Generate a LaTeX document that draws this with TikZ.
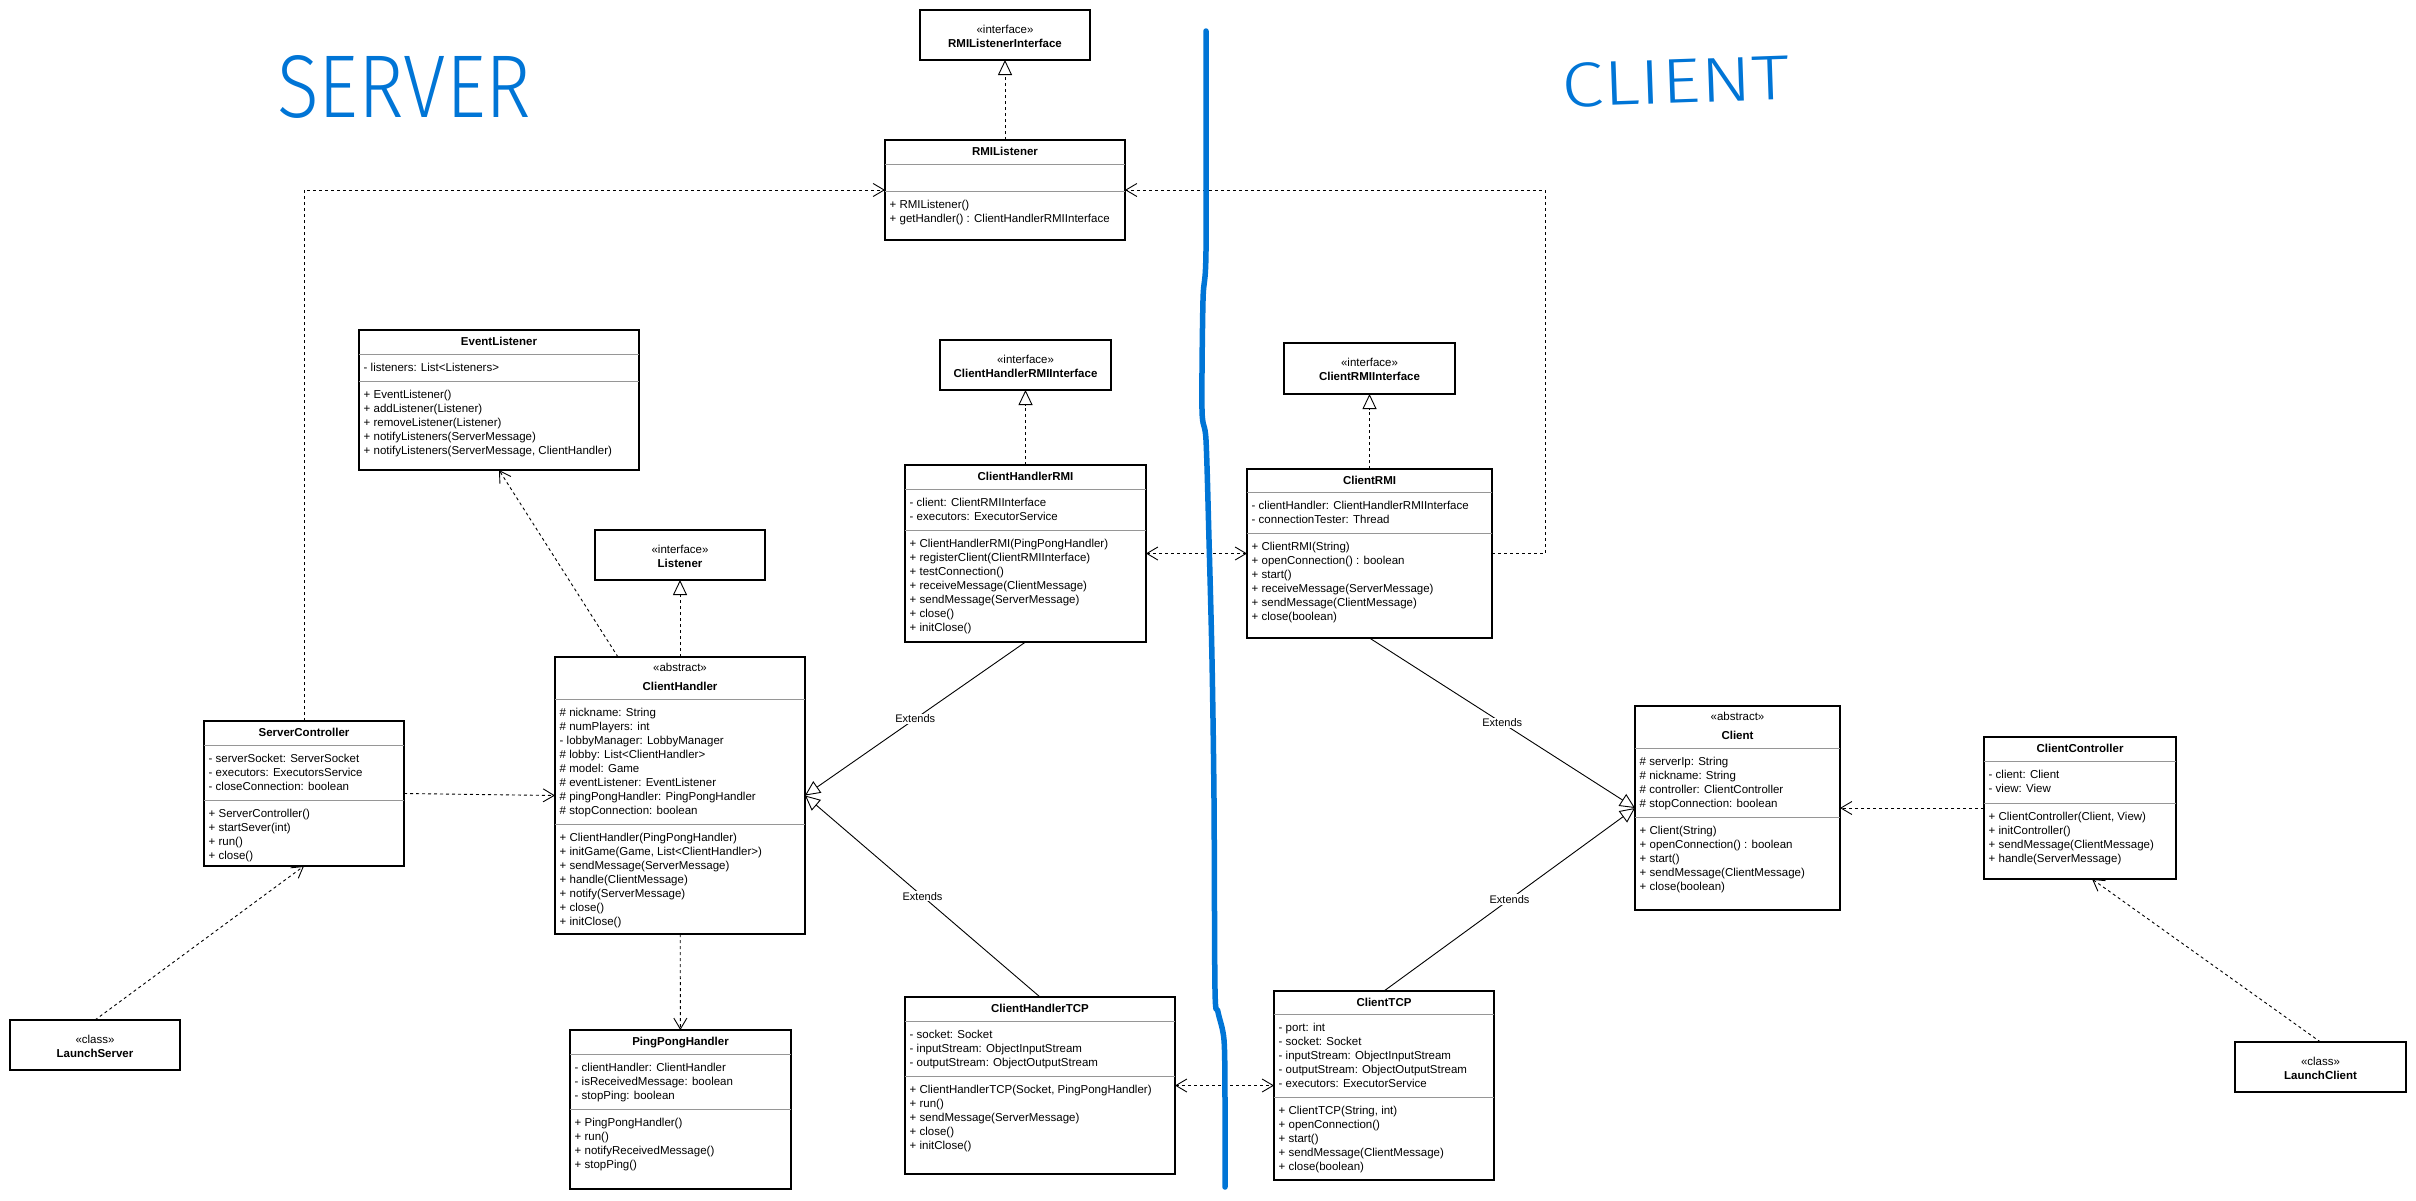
\documentclass[tikz,border=0pt]{standalone}
\usepackage{fontspec}
\setmainfont{Liberation Sans}
\IfFontExistsTF{Fira Sans Light}{\newfontfamily\handfont{Fira Sans Light}}{\newfontfamily\handfont{Fira Sans}}
\usepackage{graphicx}
\usetikzlibrary{arrows.meta}

\definecolor{pen}{RGB}{0,117,214}
\definecolor{sepgray}{RGB}{150,150,150}

\tikzset{
  umlbox/.style={draw=black, line width=1.2pt, fill=white, anchor=north west, inner sep=0pt, outer sep=0pt},
  sepline/.style={draw=sepgray, line width=1pt},
  member/.style={anchor=base west, inner sep=0pt, font=\fontsize{11.5}{14}\selectfont},
  ctitle/.style={inner sep=0pt, font=\fontsize{11.5}{14}\selectfont\bfseries},
  stereo/.style={inner sep=0pt, font=\fontsize{11.5}{14}\selectfont},
  dep/.style={line width=0.9pt, dash pattern=on 3pt off 3pt, -{Straight Barb[length=11pt,width=13pt]}},
  bidep/.style={line width=0.9pt, dash pattern=on 3pt off 3pt, {Straight Barb[length=11pt,width=13pt]}-{Straight Barb[length=11pt,width=13pt]}},
  realize/.style={line width=0.9pt, dash pattern=on 3pt off 3pt, -{Triangle[open,length=15pt,width=14pt]}},
  extends/.style={line width=0.9pt, -{Triangle[open,length=15pt,width=14pt]}},
  elabel/.style={fill=white, inner sep=1pt, font=\fontsize{11}{13}\selectfont},
  penline/.style={draw=pen, line width=5.5pt, line cap=round, line join=round},
}

% a class box: name, left, top, right, bottom
\newcommand\umlclass[5]{%
  \node[umlbox, minimum width={(#4)-(#2)}, minimum height={(#5)-(#3)}] (#1) at (#2,#3) {};}
% bold class name in the top compartment
\newcommand\umltitle[2]{%
  \node[ctitle, anchor=base] (#1-n) at ([yshift=-15pt]#1.north) {#2};}
% abstract class heading
\newcommand\umlabstract[2]{%
  \node[stereo, anchor=base] (#1-s) at ([yshift=-14.5pt]#1.north) {«abstract»};
  \node[ctitle, anchor=base] (#1-n) at ([yshift=-33.5pt]#1.north) {#2};}
% compartment separator at height y
\newcommand\umlsep[2]{%
  \draw[sepline] (#1.west |- 0,#2) -- (#1.east |- 0,#2);}
% list of members below a separator: prefix, left, separator y, items
\newcommand\umlmembers[4]{%
  \foreach \m [count=\k from 0] in {#4}{%
    \node[member, name=#1\k] at (#2+4.5,#3+17.8+14*\k) {\m};}}
% stereotyped box with two centred lines
\newcommand\umliface[7]{%
  \umlclass{#1}{#2}{#3}{#4}{#5}
  \node[stereo, anchor=base] (#1-s) at ([yshift=2pt]#1.center) {#6};
  \node[ctitle, anchor=base] (#1-n) at ([yshift=-12pt]#1.center) {#7};}

\begin{document}
\begin{tikzpicture}[x=1pt, y=-1pt]
\fill[white] (0,0) rectangle (2416,1200);
\useasboundingbox (0,0) rectangle (2416,1200);

% hand-written side captions
\node[text=pen, inner sep=0pt, anchor=south west] (serverlabel) at (277,119)
  {\resizebox{254pt}{62pt}{\handfont SERVER}};
\node[text=pen, inner sep=0pt, anchor=south west, rotate=2] (clientlabel) at (1562,108)
  {\resizebox{228pt}{44pt}{\handfont CLIENT}};

% ---------- server side ----------
\umliface{rli}{920}{10}{1090}{60}{«interface»}{RMIListenerInterface}

\umlclass{rl}{885}{140}{1125}{240}
\umltitle{rl}{RMIListener}
\umlsep{rl}{164}\umlsep{rl}{191}
\umlmembers{rl-o}{885}{191}{{+ RMIListener()},{+ getHandler() : ClientHandlerRMIInterface}}

\umlclass{el}{359}{330}{639}{470}
\umltitle{el}{EventListener}
\umlsep{el}{354}\umlsep{el}{381}
\umlmembers{el-a}{359}{354}{{- listeners: List<Listeners>}}
\umlmembers{el-o}{359}{381}{{+ EventListener()},{+ addListener(Listener)},{+ removeListener(Listener)},{+ notifyListeners(ServerMessage)},{+ notifyListeners(ServerMessage, ClientHandler)}}

\umliface{lis}{595}{530}{765}{580}{«interface»}{Listener}

\umlclass{ch}{555}{657}{805}{934}
\umlabstract{ch}{ClientHandler}
\umlsep{ch}{699}\umlsep{ch}{824}
\umlmembers{ch-a}{555}{699}{{\# nickname: String},{\# numPlayers: int},{- lobbyManager: LobbyManager},{\# lobby: List<ClientHandler>},{\# model: Game},{\# eventListener: EventListener},{\# pingPongHandler: PingPongHandler},{\# stopConnection: boolean}}
\umlmembers{ch-o}{555}{824}{{+ ClientHandler(PingPongHandler)},{+ initGame(Game, List<ClientHandler>)},{+ sendMessage(ServerMessage)},{+ handle(ClientMessage)},{+ notify(ServerMessage)},{+ close()},{+ initClose()}}

\umlclass{sc}{204}{721}{404}{866}
\umltitle{sc}{ServerController}
\umlsep{sc}{745}\umlsep{sc}{800}
\umlmembers{sc-a}{204}{745}{{- serverSocket: ServerSocket},{- executors: ExecutorsService},{- closeConnection: boolean}}
\umlmembers{sc-o}{204}{800}{{+ ServerController()},{+ startSever(int)},{+ run()},{+ close()}}

\umliface{ls}{10}{1020}{180}{1070}{«class»}{LaunchServer}

\umlclass{pph}{570}{1030}{791}{1189}
\umltitle{pph}{PingPongHandler}
\umlsep{pph}{1054}\umlsep{pph}{1109}
\umlmembers{pph-a}{570}{1054}{{- clientHandler: ClientHandler},{- isReceivedMessage: boolean},{- stopPing: boolean}}
\umlmembers{pph-o}{570}{1109}{{+ PingPongHandler()},{+ run()},{+ notifyReceivedMessage()},{+ stopPing()}}

\umliface{chri}{940}{340}{1111}{390}{«interface»}{ClientHandlerRMIInterface}

\umlclass{chr}{905}{465}{1146}{642}
\umltitle{chr}{ClientHandlerRMI}
\umlsep{chr}{489}\umlsep{chr}{530}
\umlmembers{chr-a}{905}{489}{{- client: ClientRMIInterface},{- executors: ExecutorService}}
\umlmembers{chr-o}{905}{530}{{+ ClientHandlerRMI(PingPongHandler)},{+ registerClient(ClientRMIInterface)},{+ testConnection()},{+ receiveMessage(ClientMessage)},{+ sendMessage(ServerMessage)},{+ close()},{+ initClose()}}

\umlclass{cht}{905}{997}{1175}{1174}
\umltitle{cht}{ClientHandlerTCP}
\umlsep{cht}{1021}\umlsep{cht}{1076}
\umlmembers{cht-a}{905}{1021}{{- socket: Socket},{- inputStream: ObjectInputStream},{- outputStream: ObjectOutputStream}}
\umlmembers{cht-o}{905}{1076}{{+ ClientHandlerTCP(Socket, PingPongHandler)},{+ run()},{+ sendMessage(ServerMessage)},{+ close()},{+ initClose()}}

% ---------- client side ----------
\umliface{cri}{1284}{343}{1455}{394}{«interface»}{ClientRMIInterface}

\umlclass{crmi}{1247}{469}{1492}{638}
\umltitle{crmi}{ClientRMI}
\umlsep{crmi}{492}\umlsep{crmi}{533}
\umlmembers{crmi-a}{1247}{492}{{- clientHandler: ClientHandlerRMIInterface},{- connectionTester: Thread}}
\umlmembers{crmi-o}{1247}{533}{{+ ClientRMI(String)},{+ openConnection() : boolean},{+ start()},{+ receiveMessage(ServerMessage)},{+ sendMessage(ClientMessage)},{+ close(boolean)}}

\umlclass{ctcp}{1274}{991}{1494}{1180}
\umltitle{ctcp}{ClientTCP}
\umlsep{ctcp}{1014}\umlsep{ctcp}{1097}
\umlmembers{ctcp-a}{1274}{1014}{{- port: int},{- socket: Socket},{- inputStream: ObjectInputStream},{- outputStream: ObjectOutputStream},{- executors: ExecutorService}}
\umlmembers{ctcp-o}{1274}{1097}{{+ ClientTCP(String, int)},{+ openConnection()},{+ start()},{+ sendMessage(ClientMessage)},{+ close(boolean)}}

\umlclass{cl}{1635}{706}{1840}{910}
\umlabstract{cl}{Client}
\umlsep{cl}{748}\umlsep{cl}{817}
\umlmembers{cl-a}{1635}{748}{{\# serverIp: String},{\# nickname: String},{\# controller: ClientController},{\# stopConnection: boolean}}
\umlmembers{cl-o}{1635}{817}{{+ Client(String)},{+ openConnection() : boolean},{+ start()},{+ sendMessage(ClientMessage)},{+ close(boolean)}}

\umlclass{cc}{1984}{737}{2176}{879}
\umltitle{cc}{ClientController}
\umlsep{cc}{761}\umlsep{cc}{803}
\umlmembers{cc-a}{1984}{761}{{- client: Client},{- view: View}}
\umlmembers{cc-o}{1984}{803}{{+ ClientController(Client, View)},{+ initController()},{+ sendMessage(ClientMessage)},{+ handle(ServerMessage)}}

\umliface{lc}{2235}{1042}{2406}{1092}{«class»}{LaunchClient}

% ---------- connectors ----------
\draw[realize] (rl) -- (rli);
\draw[realize] (ch) -- (lis);
\draw[realize] (chr) -- (chri);
\draw[realize] (crmi) -- (cri);

\draw[dep] (sc.north) |- (rl.west);
\draw[dep] (crmi.east) -- ++(53,0) |- (rl.east);
\draw[dep] ([xshift=-62pt]ch.north) -- (el.south);
\draw[dep] (sc.east) -- (ch.west);
\draw[dep] (ls.north) -- (sc.south);
\draw[dep] (ch) -- (pph);
\draw[dep] (cc) -- (cl);
\draw[dep] (lc.north) -- ([xshift=12pt]cc.south);

\draw[bidep] (chr) -- (crmi);
\draw[bidep] (cht) -- (ctcp);

\draw[extends] (chr.south) -- node[elabel] (ext1) {Extends} (ch.east);
\draw[extends] (cht.north) -- node[elabel] (ext2) {Extends} (ch.east);
\draw[extends] (crmi.south) -- node[elabel] (ext3) {Extends} (cl.west);
\draw[extends] (ctcp.north) -- node[elabel] (ext4) {Extends} (cl.west);

% hand-drawn divider between server and client
\draw[penline] plot[smooth, tension=0.5] coordinates {(1206,31) (1206,250) (1203,300) (1202,410) (1206,440) (1209,540) (1212,660) (1214,800) (1215,990) (1218,1012) (1224,1040) (1225,1100) (1225,1187)};
\end{tikzpicture}
\end{document}
